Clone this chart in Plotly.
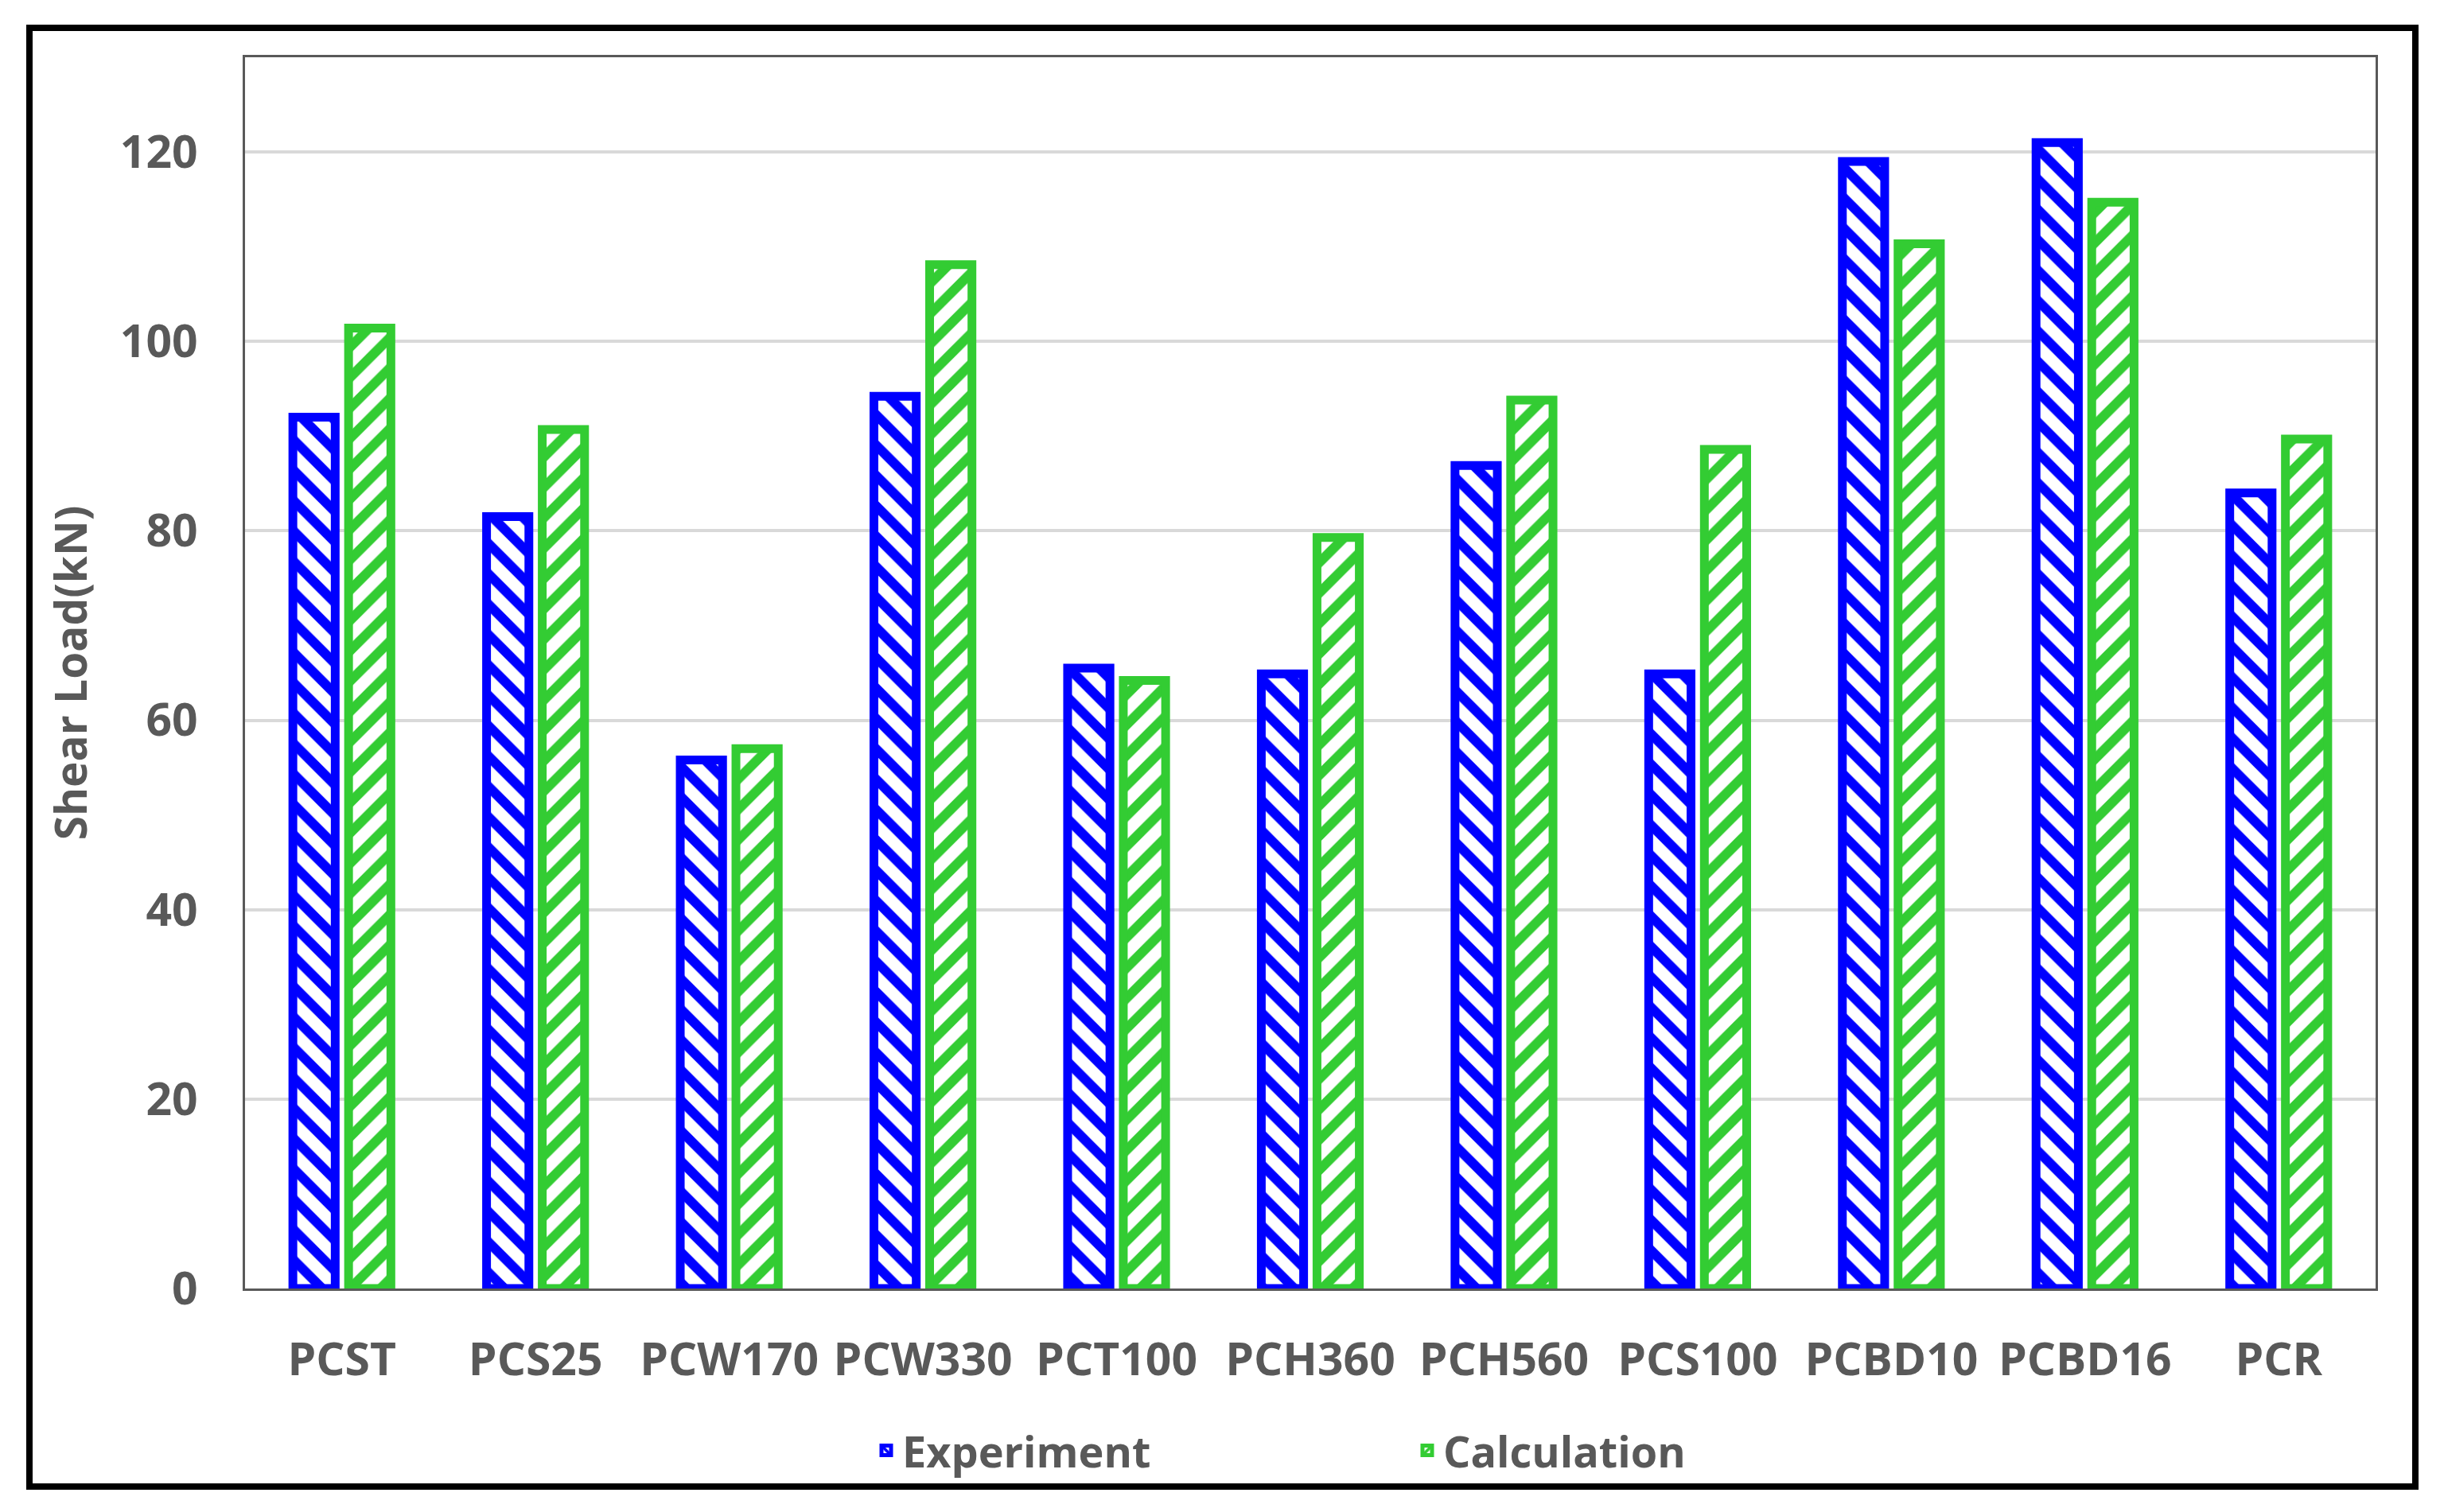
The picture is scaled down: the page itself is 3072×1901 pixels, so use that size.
import plotly.graph_objects as go

categories = ["PCST", "PCS25", "PCW170", "PCW330", "PCT100", "PCH360",
              "PCH560", "PCS100", "PCBD10", "PCBD16", "PCR"]
experiment = [92.0, 81.5, 55.8, 94.2, 65.5, 64.9, 86.9, 64.9, 119.0, 121.0, 84.0]
calculation = [101.4, 90.7, 57.0, 108.1, 64.2, 79.3, 93.8, 88.6, 110.3, 114.7, 89.7]
y_ticks = [0, 20, 40, 60, 80, 100, 120]

BLUE = "#0000FF"
GREEN = "#33CC33"
TXT = "#595959"
FONT = "Open Sans"

OFF = 8  # page body margin
W, H = 3072 - 2 * OFF, 1901 - 2 * OFF
# target screen pixel positions, converted to figure pixels
PL, PR, PT, PB = 308 - OFF, 2986 - OFF, 72 - OFF, 1620 - OFF
L, R, T, B = PL, W - PR, PT, H - PB
pw, ph = PR - PL, PB - PT

fig = go.Figure()
fig.add_trace(go.Bar(
    name="Experiment", x=categories, y=experiment,
    marker=dict(color="white", line=dict(color=BLUE, width=11),
                pattern=dict(shape="\\", fgcolor=BLUE, bgcolor="white",
                             size=27, solidity=0.45, fgopacity=1,
                             fillmode="replace")),
))
fig.add_trace(go.Bar(
    name="Calculation", x=categories, y=calculation,
    marker=dict(color="white", line=dict(color=GREEN, width=11),
                pattern=dict(shape="/", fgcolor=GREEN, bgcolor="white",
                             size=27, solidity=0.45, fgopacity=1,
                             fillmode="replace")),
))


def px_x(p):
    return (p - OFF - PL) / pw


def px_y(p):
    return (PB - (p - OFF)) / ph


fig.add_shape(type="rect", xref="paper", yref="paper",
              x0=px_x(37), x1=px_x(3036), y0=px_y(1869), y1=px_y(35),
              line=dict(color="black", width=8), fillcolor="rgba(0,0,0,0)",
              layer="above")

fig.update_layout(
    width=W, height=H,
    margin=dict(l=L, r=R, t=T, b=B),
    paper_bgcolor="white", plot_bgcolor="white",
    barmode="group", bargap=0.425, bargroupgap=0.24,
    font=dict(family=FONT, color=TXT, size=56, weight="bold"),
    showlegend=True,
    legend=dict(orientation="h", x=px_x(1094), xanchor="left",
                y=px_y(1824), yanchor="middle",
                font=dict(family=FONT, size=54, color=TXT, weight="bold"),
                entrywidth=635, entrywidthmode="pixels",
                bgcolor="rgba(0,0,0,0)"),
    xaxis=dict(showline=True, linecolor="#595959", linewidth=3, mirror=True,
               ticks="", showgrid=False, ticklabelstandoff=38,
               tickfont=dict(family=FONT, size=57, color=TXT, weight="bold")),
    yaxis=dict(range=[0, 130], tickvals=y_ticks, showline=True,
               linecolor="#595959", linewidth=3, mirror=True,
               showgrid=True, gridcolor="#D9D9D9", gridwidth=4,
               zeroline=False, ticks="", ticklabelstandoff=45,
               tickfont=dict(family=FONT, size=57, color=TXT, weight="bold"),
               title=dict(text="Shear Load(kN)", standoff=24,
                          font=dict(family=FONT, size=55, color=TXT, weight="bold"))),
)

fig.write_html("out.html")
